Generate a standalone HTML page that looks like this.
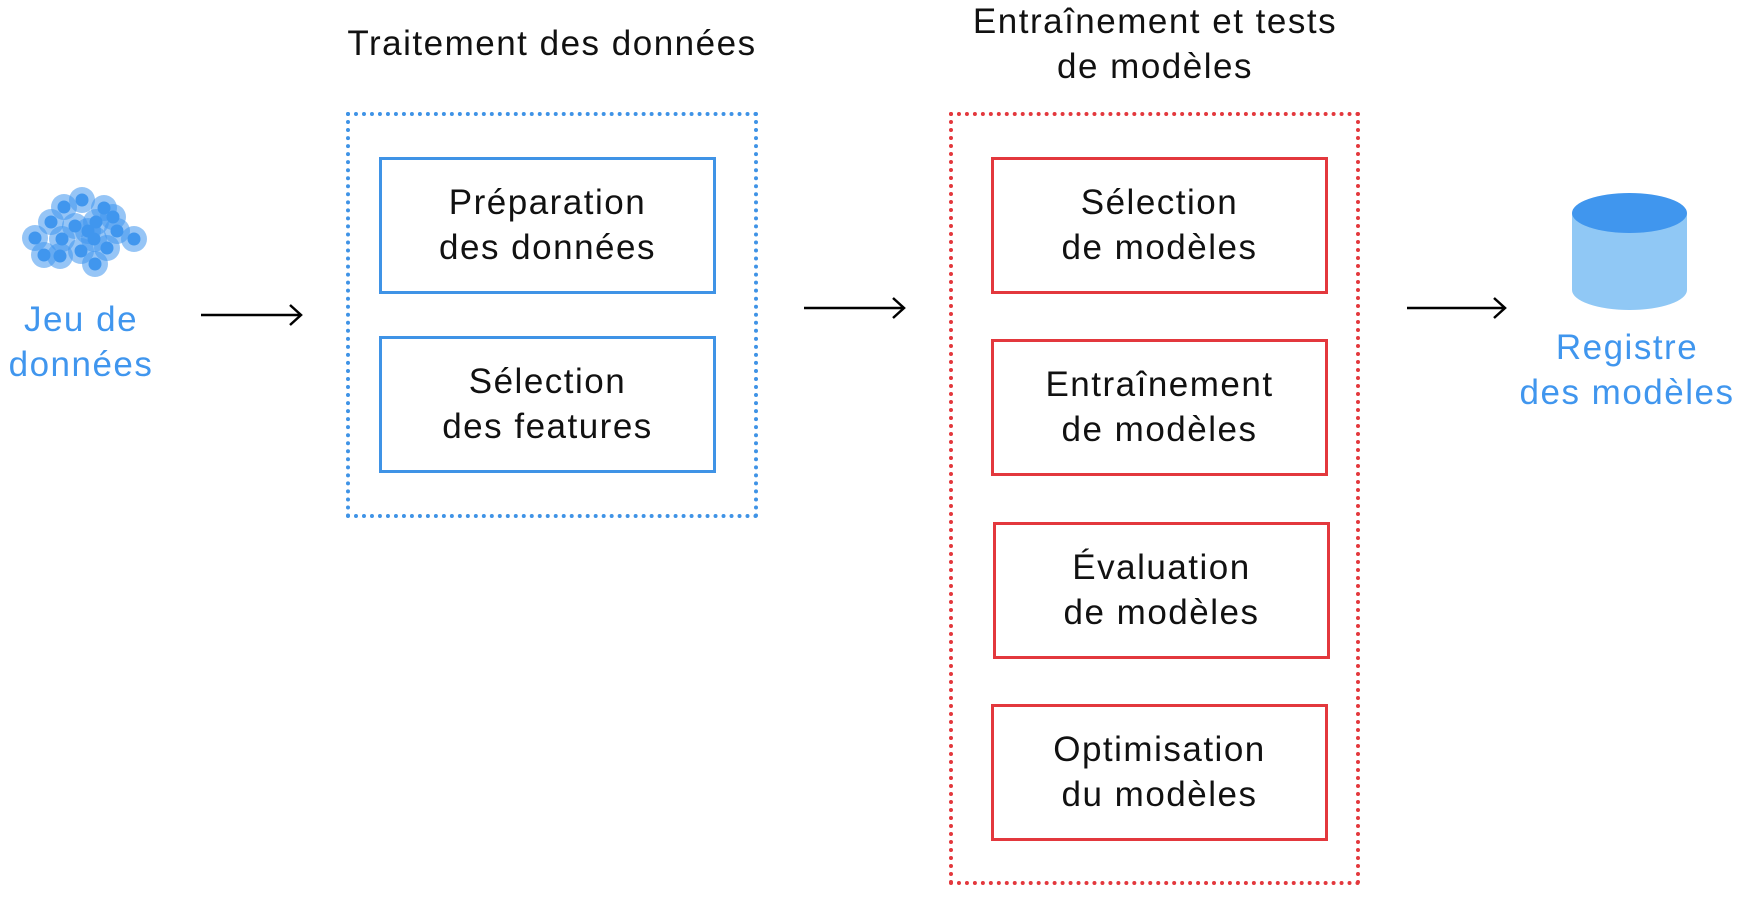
<!DOCTYPE html>
<html><head><meta charset="utf-8"><style>
body{margin:0;width:1744px;height:902px;background:#fff;position:relative;overflow:hidden;font-family:"Liberation Sans","DejaVu Sans",sans-serif;}
.t{position:absolute;text-align:center;font-size:35px;letter-spacing:1.5px;line-height:44.5px;color:#111;white-space:nowrap;transform:translateX(-50%);}
.b{color:#4096ee}
.box{position:absolute;box-sizing:border-box;border:3px solid;display:flex;align-items:center;justify-content:center;text-align:center;font-size:35px;letter-spacing:1.5px;line-height:44.5px;color:#111;}
.bl{border-color:#3f93e6}.rd{border-color:#e3383d}
.dot{position:absolute;box-sizing:border-box;border:4px dotted;}
</style></head><body>
<div class="t" style="left:552px;top:22px">Traitement des données</div>
<div class="t" style="left:1155px;top:0px">Entraînement et tests<br>de modèles</div>
<div class="dot" style="left:346px;top:112px;width:412px;height:406px;border-color:#3f93e6"></div>
<div class="dot" style="left:949px;top:112px;width:411px;height:773px;border-color:#e3383d"></div>
<div class="box bl" style="left:379px;top:157px;width:337px;height:137px">Préparation<br>des données</div>
<div class="box bl" style="left:379px;top:336px;width:337px;height:137px">Sélection<br>des features</div>
<div class="box rd" style="left:991px;top:157px;width:337px;height:137px">Sélection<br>de modèles</div>
<div class="box rd" style="left:991px;top:339px;width:337px;height:137px">Entraînement<br>de modèles</div>
<div class="box rd" style="left:993px;top:522px;width:337px;height:137px">Évaluation<br>de modèles</div>
<div class="box rd" style="left:991px;top:704px;width:337px;height:137px">Optimisation<br>du modèles</div>
<div class="t b" style="left:81px;top:298px">Jeu de<br>données</div>
<div class="t b" style="left:1627px;top:326px">Registre<br>des modèles</div>
<svg width="1744" height="902" style="position:absolute;left:0;top:0">
<g stroke="#000" stroke-width="2.5" fill="none">
<path d="M201 315H300M290 305L301 315L290 325"/>
<path d="M804 308H903M893 298L904 308L893 318"/>
<path d="M1407 308H1504M1494 298L1505 308L1494 318"/>
</g>
<g fill="#4096ee" fill-opacity="0.55">
<circle cx="35" cy="238" r="13"/><circle cx="64" cy="207" r="13"/><circle cx="82" cy="200" r="13"/><circle cx="104" cy="208" r="13"/><circle cx="113" cy="217" r="13"/><circle cx="51" cy="222" r="13"/><circle cx="75" cy="226" r="13"/><circle cx="96" cy="222" r="13"/><circle cx="88" cy="231" r="13"/><circle cx="62" cy="239" r="13"/><circle cx="94" cy="239" r="13"/><circle cx="117" cy="231" r="13"/><circle cx="134" cy="239" r="13"/><circle cx="44" cy="255" r="13"/><circle cx="60" cy="256" r="13"/><circle cx="81" cy="251" r="13"/><circle cx="107" cy="248" r="13"/><circle cx="95" cy="264" r="13"/>
</g>
<g fill="#4096ee">
<circle cx="35" cy="238" r="6.5"/><circle cx="64" cy="207" r="6.5"/><circle cx="82" cy="200" r="6.5"/><circle cx="104" cy="208" r="6.5"/><circle cx="113" cy="217" r="6.5"/><circle cx="51" cy="222" r="6.5"/><circle cx="75" cy="226" r="6.5"/><circle cx="96" cy="222" r="6.5"/><circle cx="88" cy="231" r="6.5"/><circle cx="62" cy="239" r="6.5"/><circle cx="94" cy="239" r="6.5"/><circle cx="117" cy="231" r="6.5"/><circle cx="134" cy="239" r="6.5"/><circle cx="44" cy="255" r="6.5"/><circle cx="60" cy="256" r="6.5"/><circle cx="81" cy="251" r="6.5"/><circle cx="107" cy="248" r="6.5"/><circle cx="95" cy="264" r="6.5"/>
</g>
<path d="M1572 213V290A57.5 20 0 0 0 1687 290V213Z" fill="#90c8f5"/>
<ellipse cx="1629.5" cy="213" rx="57.5" ry="20" fill="#4096ee"/>
</svg>
</body></html>
